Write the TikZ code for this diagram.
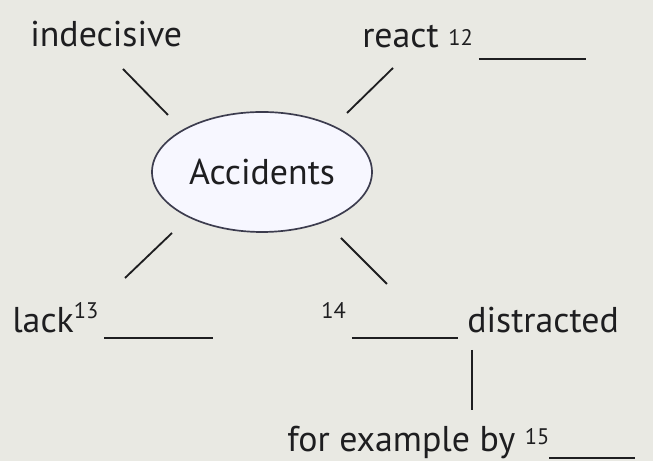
\documentclass[tikz,border=0pt]{standalone}
\usepackage{fontspec}
\setmainfont{PT Sans}
\usetikzlibrary{shapes.geometric}
\definecolor{paper}{RGB}{233,233,227}
\definecolor{ink}{RGB}{30,30,32}
\definecolor{rim}{RGB}{60,60,78}
\newcommand{\num}[2]{\raisebox{#1}{\fontsize{16}{16}\selectfont #2}}
\newcommand{\gap}[2]{\rule[#1]{#2}{1.3pt}}
\begin{document}
\begin{tikzpicture} [scale = 1, every node/.style = {inner sep = 0, text = ink, font = \fontsize{25.5}{30}\selectfont},
	spoke/.style = {ink, line width = 1.3pt}, word/.style = {anchor = base west}]
	\useasboundingbox (0,0) rectangle (16.325,11.525);
	\fill [paper] (0,0) rectangle (16.325,11.525);
	\node [ellipse, draw = rim, line width = 1.2pt, fill = white!97!blue, minimum width = 5.5cm, minimum height = 3cm] (accidents) at (6.55,7.225) {Accidents};
	\node [word] (indecisive) at (0.75,10.35) {indecisive};
	\node [word] (react) at (9.05,10.325) {react \num{2pt}{12}\,\gap{-8.5pt}{2.68cm}};
	\node [word] (lack) at (0.3,3.2) {lack\num{10pt}{13}\,\gap{-4.5pt}{2.72cm}};
	\node [word] (distracted) at (8.025,3.2) {\num{10pt}{14}\,\gap{-4.5pt}{2.65cm} distracted};
	\node [word] (example) at (7.175,0.225) {for example by \num{5.5pt}{15}\gap{-5pt}{2.15cm}};
	% spokes round the ellipse
	\coordinate (s1a) at (3.075,9.8);   \coordinate (s1b) at (4.2,8.65);
	\coordinate (s2a) at (9.825,9.825); \coordinate (s2b) at (8.675,8.7);
	\coordinate (s3a) at (4.3,5.7);     \coordinate (s3b) at (3.125,4.575);
	\coordinate (s4a) at (8.525,5.575); \coordinate (s4b) at (9.675,4.425);
	\coordinate (v1) at (11.8,2.775);   \coordinate (v2) at (11.8,1.275);
	\draw [spoke] (s1a) -- (s1b);
	\draw [spoke] (s2a) -- (s2b);
	\draw [spoke] (s3a) -- (s3b);
	\draw [spoke] (s4a) -- (s4b);
	\draw [spoke] (v1) -- (v2);
\end{tikzpicture}
\end{document}
